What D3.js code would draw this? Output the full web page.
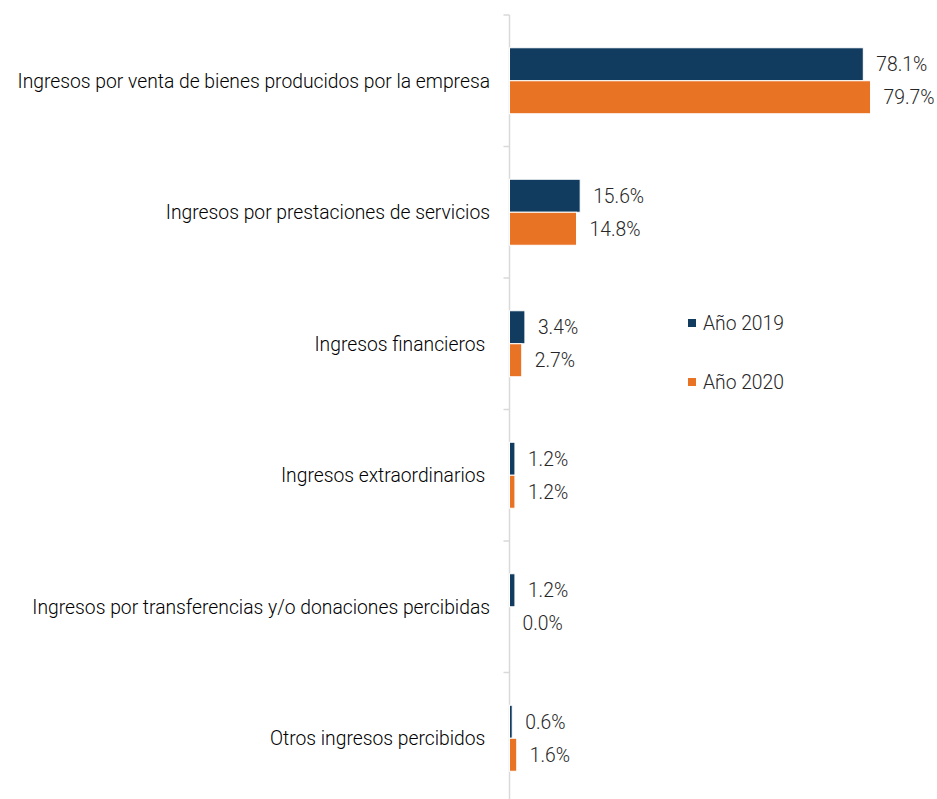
<!DOCTYPE html>
<html>
<head>
<meta charset="utf-8">
<script src="https://cdn.jsdelivr.net/npm/d3@7"></script>
<style>
  html, body { margin: 0; padding: 0; background: #fff; }
  svg { display: block; font-family: Roboto, sans-serif; }
</style>
</head>
<body>
<svg id="chart"></svg>
<script>
// Datos
const categories = [
    'Ingresos por venta de bienes producidos por la empresa',
    'Ingresos por prestaciones de servicios',
    'Ingresos financieros ',
    'Ingresos extraordinarios ',
    'Ingresos por transferencias y/o donaciones percibidas',
    'Otros ingresos percibidos '
];
const seriesNames = ['Año 2019', 'Año 2020'];
const values2019 = [78.1, 15.6, 3.4, 1.2, 1.2, 0.6];
const values2020 = [79.7, 14.8, 2.7, 1.2, 0.0, 1.6];
const colors = ['#113b5f', '#e87325'];

const width = 937;
const height = 799;
const axisX = 509.5;
const fontSize = '19.3px';

const svg = d3.select('#chart')
    .attr('width', width)
    .attr('height', height);

// Escalas
const y = d3.scaleBand()
    .domain(categories)
    .range([15, 804]);

const x = d3.scaleLinear()
    .domain([0, 100])
    .range([axisX, axisX + 453]);

const barH = 33;

// Eje vertical con marcas entre categorías
const axisG = svg.append('g');
axisG.append('line')
    .attr('x1', axisX).attr('x2', axisX)
    .attr('y1', 15).attr('y2', 804)
    .attr('stroke', '#d9d9d9')
    .attr('stroke-width', 1.5);

axisG.selectAll('line.tick')
    .data(d3.range(categories.length + 1))
    .enter()
    .append('line')
    .attr('class', 'tick')
    .attr('x1', axisX - 6).attr('x2', axisX)
    .attr('y1', (d) => 15 + d * y.step())
    .attr('y2', (d) => 15 + d * y.step())
    .attr('stroke', '#d9d9d9')
    .attr('stroke-width', 1.5);

// Etiquetas de categoría
svg.append('g').selectAll('text')
    .data(categories)
    .enter()
    .append('text')
    .attr('x', 490)
    .attr('y', (d) => y(d) + y.bandwidth() / 2)
    .attr('dy', '0.35em')
    .attr('text-anchor', 'end')
    .style('white-space', 'pre')
    .style('font-size', fontSize)
    .style('font-weight', 300)
    .style('fill', '#000')
    .text((d) => d);

// Barras
const rows = categories.map((c, i) => ({ cat: c, vals: [values2019[i], values2020[i]] }));

const group = svg.append('g').selectAll('g')
    .data(rows)
    .enter()
    .append('g')
    .attr('transform', (d) => `translate(0,${ y(d.cat) + y.bandwidth() / 2 })`);

group.selectAll('rect')
    .data((d) => d.vals.map((v, s) => ({ v, s })))
    .enter()
    .append('rect')
    .attr('x', x(0))
    .attr('y', (d) => d.s === 0 ? -barH : 0)
    .attr('width', (d) => x(d.v) - x(0))
    .attr('height', barH)
    .attr('fill', (d) => colors[d.s])
    .attr('stroke', '#fff')
    .attr('stroke-width', (d) => d.v > 0 ? 1 : 0);

// Etiquetas de valor
group.selectAll('text')
    .data((d) => d.vals.map((v, s) => ({ v, s })))
    .enter()
    .append('text')
    .attr('x', (d) => x(d.v) + 13)
    .attr('y', (d) => d.s === 0 ? -barH / 2 : barH / 2)
    .attr('dy', '0.35em')
    .style('font-size', fontSize)
    .style('font-weight', 300)
    .style('fill', '#262626')
    .text((d) => d3.format('.1f')(d.v) + '%');

// Leyenda
const legend = svg.append('g').selectAll('g')
    .data(seriesNames)
    .enter()
    .append('g')
    .attr('transform', (d, i) => `translate(688,${ 323 + i * 59 })`);

legend.append('rect')
    .attr('x', 0).attr('y', -4)
    .attr('width', 8).attr('height', 8)
    .attr('fill', (d, i) => colors[i]);

legend.append('text')
    .attr('x', 15)
    .attr('dy', '0.35em')
    .style('font-size', fontSize)
    .style('font-weight', 300)
    .style('fill', '#262626')
    .text((d) => d);
</script>
</body>
</html>
